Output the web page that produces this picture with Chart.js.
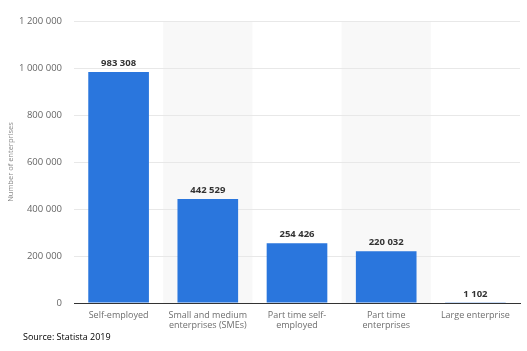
<!DOCTYPE html>
<html>
<head>
<meta charset="utf-8">
<script src="https://cdn.jsdelivr.net/npm/chart.js@4/dist/chart.umd.min.js"></script>
<style>
  html, body { margin: 0; padding: 0; background: #fff; }
  #wrap { position: relative; width: 527px; height: 351px; }
  #source { position: absolute; left: 23px; top: 330px; font: 9px "Open Sans", sans-serif; color: #000; }
</style>
</head>
<body>
<div id="wrap">
  <canvas id="myChart" width="527" height="351"></canvas>
  <div id="source">Source: Statista 2019</div>
</div>
<script>
// данные
const categories = [
  ["Self-employed"],
  ["Small and medium", "enterprises (SMEs)"],
  ["Part time self-", "employed"],
  ["Part time", "enterprises"],
  ["Large enterprise"]
];
const enterprises = [983308, 442529, 254426, 220032, 1102];
const yTicks = [0, 200000, 400000, 600000, 800000, 1000000, 1200000];

function fmt(n) {
  return String(n).replace(/\B(?=(\d{3})+(?!\d))/g, ' ');
}

// серые полосы за каждой второй категорией
const bands = {
  id: 'bands',
  beforeDraw(chart) {
    const ctx = chart.ctx, x = chart.scales.x, area = chart.chartArea;
    const w = (area.right - area.left) / categories.length;
    ctx.save();
    ctx.fillStyle = '#f8f8f8';
    categories.forEach((c, i) => {
      if (i % 2 == 1) {
        ctx.fillRect(x.getPixelForValue(i) - w / 2, area.top, w, area.bottom - area.top);
      }
    });
    ctx.restore();
  }
};

// подписи над столбцами
const valueLabels = {
  id: 'valueLabels',
  afterDatasetsDraw(chart) {
    const ctx = chart.ctx;
    const meta = chart.getDatasetMeta(0);
    ctx.save();
    ctx.font = 'bold 9.5px "Open Sans", sans-serif';
    ctx.fillStyle = '#333';
    ctx.textAlign = 'center';
    ctx.textBaseline = 'bottom';
    meta.data.forEach((bar, i) => {
      ctx.fillText(fmt(enterprises[i]), bar.x, bar.y - 4);
    });
    ctx.restore();
  }
};

new Chart("myChart", {
  type: "bar",
  data: {
    labels: categories,
    datasets: [{
      data: enterprises,
      backgroundColor: "#2a76dd",
      barPercentage: 0.68,
      categoryPercentage: 1
    }]
  },
  options: {
    responsive: false,
    animation: false,
    layout: { padding: { top: 21, right: 7, left: 0, bottom: 0 } },
    plugins: {
      legend: { display: false },
      tooltip: { enabled: false }
    },
    scales: {
      x: {
        grid: { display: false },
        border: { display: true, color: '#333', width: 1 },
        ticks: {
          color: '#6e6e6e',
          font: { family: 'Open Sans', size: 9, lineHeight: 1.05 },
          padding: 0,
          maxRotation: 0,
          autoSkip: false
        },
        afterFit(s) { s.height = 48; }
      },
      y: {
        min: 0,
        max: 1200000,
        afterBuildTicks(s) { s.ticks = yTicks.map(v => ({ value: v })); },
        grid: { color: '#e8e8e8', drawTicks: false },
        border: { display: false },
        ticks: {
          color: '#666',
          font: { family: 'Open Sans', size: 9.5 },
          padding: 12,
          callback: v => fmt(v)
        },
        title: {
          display: true,
          text: 'Number of enterprises',
          color: '#888',
          font: { family: 'Open Sans', size: 7.5 },
          padding: { top: 6, bottom: 0 }
        },
        afterFit(s) { s.width = 74; }
      }
    }
  },
  plugins: [bands, valueLabels]
});
</script>
</body>
</html>
